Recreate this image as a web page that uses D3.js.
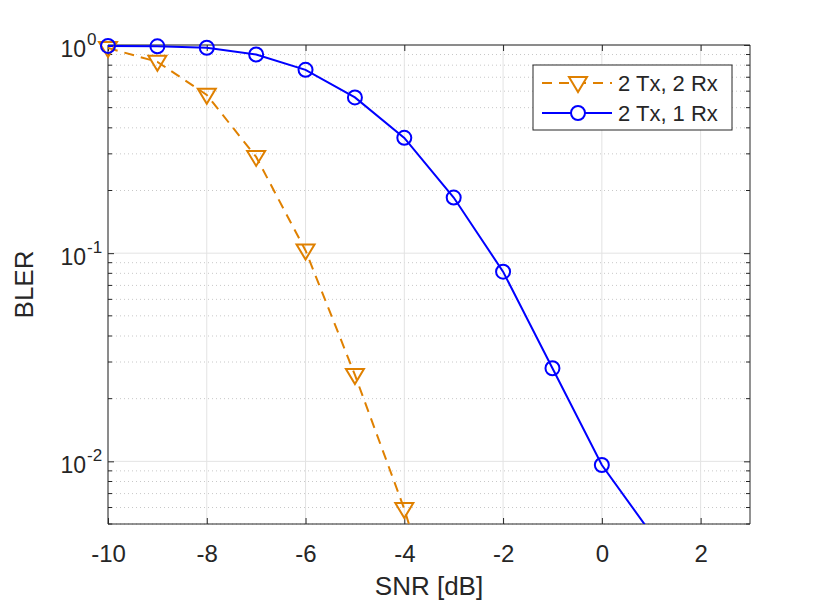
<!DOCTYPE html>
<html lang="en">
<head>
<meta charset="UTF-8">
<title>BLER vs SNR</title>
<style>
  body { margin: 0; background: #fff; }
  text { font-family: "Liberation Sans", Arial, sans-serif; fill: #262626; }
</style>
</head>
<body>
<script src="https://cdn.jsdelivr.net/npm/d3@7"></script>
<script>
var snr = [-10, -9, -8, -7, -6, -5, -4, -3, -2, -1, 0, 1];
var bler2x2 = [0.967, 0.83, 0.576, 0.29, 0.103, 0.026, 0.0059, 0.001];
var bler2x1 = [0.99, 0.985, 0.97, 0.9, 0.76, 0.56, 0.358, 0.185, 0.0815, 0.028, 0.0096, 0.0045];
var xTicks = [-10, -8, -6, -4, -2, 0, 2];
var yTicks = [1, 0.1, 0.01];
var seriesNames = ["2 Tx, 2 Rx", "2 Tx, 1 Rx"];

var width = 830, height = 605,
    mLeft = 108, mRight = 750, mTop = 45, mBottom = 524;
var orange = "#df8000", blue = "#0000ff", ink = "#262626";

var x = d3.scaleLinear().domain([-10, 3]).range([mLeft, mRight]);
var y = d3.scaleLog().domain([0.005, 1]).range([mBottom, mTop]);

var svg = d3.select("body").append("svg")
    .attr("width", width)
    .attr("height", height);

svg.append("defs").append("clipPath").attr("id", "clip")
  .append("rect")
    .attr("x", mLeft).attr("y", mTop)
    .attr("width", mRight - mLeft).attr("height", mBottom - mTop);

// minor values on the log axis
var minor = [];
[0.001, 0.01, 0.1].forEach(function(d){
  for (var k = 2; k <= 9; k++) {
    var v = d * k;
    if (v >= 0.005 && v < 1) minor.push(v);
  }
});

var grid = svg.append("g");
grid.selectAll("line.minor")
  .data(minor).enter().append("line")
    .attr("x1", mLeft).attr("x2", mRight)
    .attr("y1", function(d){ return y(d); })
    .attr("y2", function(d){ return y(d); })
    .attr("stroke", "#c8c8c8")
    .attr("stroke-width", 1)
    .attr("stroke-dasharray", "1,3");
grid.selectAll("line.ymaj")
  .data(yTicks).enter().append("line")
    .attr("x1", mLeft).attr("x2", mRight)
    .attr("y1", function(d){ return y(d); })
    .attr("y2", function(d){ return y(d); })
    .attr("stroke", "#e3e3e3");
grid.selectAll("line.xmaj")
  .data(xTicks).enter().append("line")
    .attr("y1", mTop).attr("y2", mBottom)
    .attr("x1", function(d){ return x(d); })
    .attr("x2", function(d){ return x(d); })
    .attr("stroke", "#e3e3e3");

// axes (ticks inward, box all round)
var xAxis = d3.axisBottom(x).tickValues(xTicks).tickSize(-6).tickPadding(14)
    .tickFormat(function(d){ return d; });
var xTopAxis = d3.axisTop(x).tickValues(xTicks).tickSize(-6).tickFormat("");
var yLeft = d3.axisLeft(y).tickValues(yTicks).tickSize(-6).tickFormat("");
var yRight = d3.axisRight(y).tickValues(yTicks).tickSize(-6).tickFormat("");

function style(g) {
  g.select(".domain").attr("stroke", ink).attr("stroke-width", 1);
  g.selectAll(".tick line").attr("stroke", ink);
  g.selectAll("text").attr("font-size", 24).attr("fill", ink)
    .attr("font-family", "Liberation Sans, Arial, sans-serif")
    .attr("dy", null).attr("y", 38);
}

svg.append("g").attr("transform", "translate(0," + mBottom + ")").call(xAxis).call(style)
  .call(function(g){ g.select(".domain").attr("d", "M" + mLeft + ",0H" + mRight); });
svg.append("g").attr("transform", "translate(0," + mTop + ")").call(xTopAxis).call(style)
  .call(function(g){ g.select(".domain").attr("d", "M" + mLeft + ",0H" + mRight); });
svg.append("g").attr("transform", "translate(" + mLeft + ",0)").call(yLeft).call(style)
  .call(function(g){ g.select(".domain").attr("d", "M0," + mTop + "V" + mBottom); });
svg.append("g").attr("transform", "translate(" + mRight + ",0)").call(yRight).call(style)
  .call(function(g){ g.select(".domain").attr("d", "M0," + mTop + "V" + mBottom); });

// minor ticks on left and right
var mt = svg.append("g");
mt.selectAll("line.l").data(minor).enter().append("line")
  .attr("x1", mLeft).attr("x2", mLeft + 4)
  .attr("y1", function(d){ return y(d); }).attr("y2", function(d){ return y(d); })
  .attr("stroke", ink);
mt.selectAll("line.r").data(minor).enter().append("line")
  .attr("x1", mRight).attr("x2", mRight - 4)
  .attr("y1", function(d){ return y(d); }).attr("y2", function(d){ return y(d); })
  .attr("stroke", ink);

// y tick labels 10^n
var yl = svg.append("g").selectAll("text").data(yTicks).enter().append("text")
  .attr("x", mLeft - 22)
  .attr("y", function(d){ return y(d) + 12; })
  .attr("text-anchor", "end")
  .attr("font-size", 23);
yl.append("tspan").text("10");
yl.append("tspan").attr("x", mLeft - 21).attr("text-anchor", "start")
  .attr("dy", -12).attr("font-size", 17)
  .text(function(d){ return Math.round(Math.log10(d)); });

// axis labels
svg.append("text").attr("x", (mLeft + mRight) / 2).attr("y", 595)
  .attr("text-anchor", "middle").attr("font-size", 26).text("SNR [dB]");
svg.append("text")
  .attr("transform", "translate(33," + ((mTop + mBottom) / 2) + ") rotate(-90)")
  .attr("text-anchor", "middle").attr("font-size", 26).text("BLER");

// series
var line = d3.line()
  .x(function(d){ return x(d[0]); })
  .y(function(d){ return y(d[1]); });

var s1 = bler2x2.map(function(v, i){ return [snr[i], v]; });
var s2 = bler2x1.map(function(v, i){ return [snr[i], v]; });

var plot = svg.append("g").attr("clip-path", "url(#clip)");

plot.append("path").attr("d", line(s1))
  .attr("fill", "none").attr("stroke", orange).attr("stroke-width", 2)
  .attr("stroke-dasharray", "10,7");
plot.append("path").attr("d", line(s2))
  .attr("fill", "none").attr("stroke", blue).attr("stroke-width", 2);

var tri = "M-9,-6L9,-6L0,9Z";
svg.append("g").selectAll("path")
  .data(s1.filter(function(d){ return d[1] >= 0.005; })).enter().append("path")
  .attr("d", tri)
  .attr("transform", function(d){ return "translate(" + x(d[0]) + "," + y(d[1]) + ")"; })
  .attr("fill", "none").attr("stroke", orange).attr("stroke-width", 2);
svg.append("g").selectAll("circle")
  .data(s2.filter(function(d){ return d[1] >= 0.005; })).enter().append("circle")
  .attr("cx", function(d){ return x(d[0]); })
  .attr("cy", function(d){ return y(d[1]); })
  .attr("r", 7)
  .attr("fill", "none").attr("stroke", blue).attr("stroke-width", 2);

// legend
var lg = svg.append("g").attr("transform", "translate(533,65)");
lg.append("rect").attr("width", 199).attr("height", 65)
  .attr("fill", "#fff").attr("stroke", ink).attr("stroke-width", 1);
var rows = [
  {name: seriesNames[0], color: orange, dash: "10,7", marker: "tri"},
  {name: seriesNames[1], color: blue, dash: null, marker: "circle"}
];
rows.forEach(function(r, i){
  var cy = 18 + i * 30;
  lg.append("line").attr("x1", 9).attr("x2", 79).attr("y1", cy).attr("y2", cy)
    .attr("stroke", r.color).attr("stroke-width", 2)
    .attr("stroke-dasharray", r.dash);
  if (r.marker === "tri") {
    lg.append("path").attr("d", tri).attr("transform", "translate(45," + cy + ")")
      .attr("fill", "#fff").attr("stroke", r.color).attr("stroke-width", 2);
  } else {
    lg.append("circle").attr("cx", 45).attr("cy", cy).attr("r", 7)
      .attr("fill", "#fff").attr("stroke", r.color).attr("stroke-width", 2);
  }
  lg.append("text").attr("x", 85).attr("y", cy + 8).attr("font-size", 22)
    .attr("fill", "#000").text(r.name);
});
</script>
</body>
</html>
